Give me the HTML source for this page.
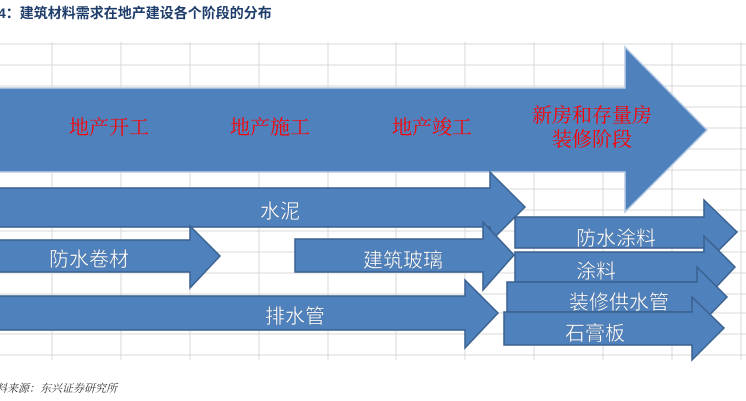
<!DOCTYPE html>
<html><head><meta charset="utf-8"><style>
body{margin:0;width:746px;height:401px;background:#fff;overflow:hidden;font-family:"Liberation Sans","Noto Sans CJK SC",sans-serif}
</style></head><body>
<svg width="746" height="401" xmlns="http://www.w3.org/2000/svg" style="position:absolute;left:0;top:0">
<g stroke="#d9d9d9" stroke-width="1">
<line x1="52" y1="42" x2="52" y2="360"/><line x1="121" y1="42" x2="121" y2="360"/><line x1="190" y1="42" x2="190" y2="360"/><line x1="259" y1="42" x2="259" y2="360"/><line x1="328" y1="42" x2="328" y2="360"/><line x1="396" y1="42" x2="396" y2="360"/><line x1="465" y1="42" x2="465" y2="360"/><line x1="534" y1="42" x2="534" y2="360"/><line x1="603" y1="42" x2="603" y2="360"/><line x1="672" y1="42" x2="672" y2="360"/><line x1="741" y1="42" x2="741" y2="360"/>
<line x1="0" y1="44" x2="746" y2="44"/><line x1="0" y1="65" x2="746" y2="65"/><line x1="0" y1="86" x2="746" y2="86"/><line x1="0" y1="107" x2="746" y2="107"/><line x1="0" y1="128" x2="746" y2="128"/><line x1="0" y1="149" x2="746" y2="149"/><line x1="0" y1="170" x2="746" y2="170"/><line x1="0" y1="189" x2="746" y2="189"/><line x1="0" y1="210" x2="746" y2="210"/><line x1="0" y1="231" x2="746" y2="231"/><line x1="0" y1="252" x2="746" y2="252"/><line x1="0" y1="273" x2="746" y2="273"/><line x1="0" y1="294" x2="746" y2="294"/><line x1="0" y1="313" x2="746" y2="313"/><line x1="0" y1="334" x2="746" y2="334"/><line x1="0" y1="355" x2="746" y2="355"/>
</g>
<g fill="#4f81bd" stroke="#3a6190" stroke-width="1.5">
<polygon points="-2,88 625,88 625,47 707,130 625,212 625,172 -2,172" stroke="#b8cce4"/>
<polygon points="-2,188 490,188 490,172 525,207 490,242 490,227 -2,227"/>
<polygon points="-2,240 190,240 190,226 220,256 190,288 190,272 -2,272"/>
<polygon points="295,239 483,239 483,222 514,255 483,290 483,272 295,272"/>
<polygon points="-2,296 465,296 465,280 498,313 465,348 465,330 -2,330"/>
<polygon points="515,217 704,217 704,200 737,232 704,265 704,248 515,248"/>
<polygon points="515,252 704,252 704,236 735,267 704,300 704,282 515,282"/>
<polygon points="507,282 697,282 697,267 727,297 697,328 697,312 507,312"/>
<polygon points="504,312 692,312 692,297 724,328 692,360 692,345 504,345"/>
</g>
<g font-family="Liberation Serif,'Noto Serif CJK SC',serif" font-size="20" fill="#ff0000">
<text x="69" y="134">地产开工</text><text x="230" y="134">地产施工</text><text x="392" y="134">地产竣工</text>
<text x="532" y="122">新房和存量房</text><text x="552" y="146">装修阶段</text>
</g>
<g font-family="'Liberation Sans','Noto Sans CJK SC',sans-serif" font-size="20" fill="#fff" stroke="#3a6190" stroke-width="0.3">
<text x="260" y="218">水泥</text><text x="49" y="266">防水卷材</text><text x="363" y="267">建筑玻璃</text><text x="265" y="323">排水管</text>
<text x="576" y="245">防水涂料</text><text x="576" y="278">涂料</text><text x="569" y="309">装修供水管</text><text x="565" y="340">石膏板</text>
</g>
<text x="-2" y="18" font-family="'Liberation Sans','Noto Sans CJK SC',sans-serif" font-size="14" font-weight="bold" fill="#1f3d6b">4：建筑材料需求在地产建设各个阶段的分布</text>
<text x="-4" y="392" font-family="'Liberation Serif','Noto Serif CJK SC',serif" font-size="11" font-style="italic" fill="#333">料来源：东兴证券研究所</text>
</svg>
</body></html>
